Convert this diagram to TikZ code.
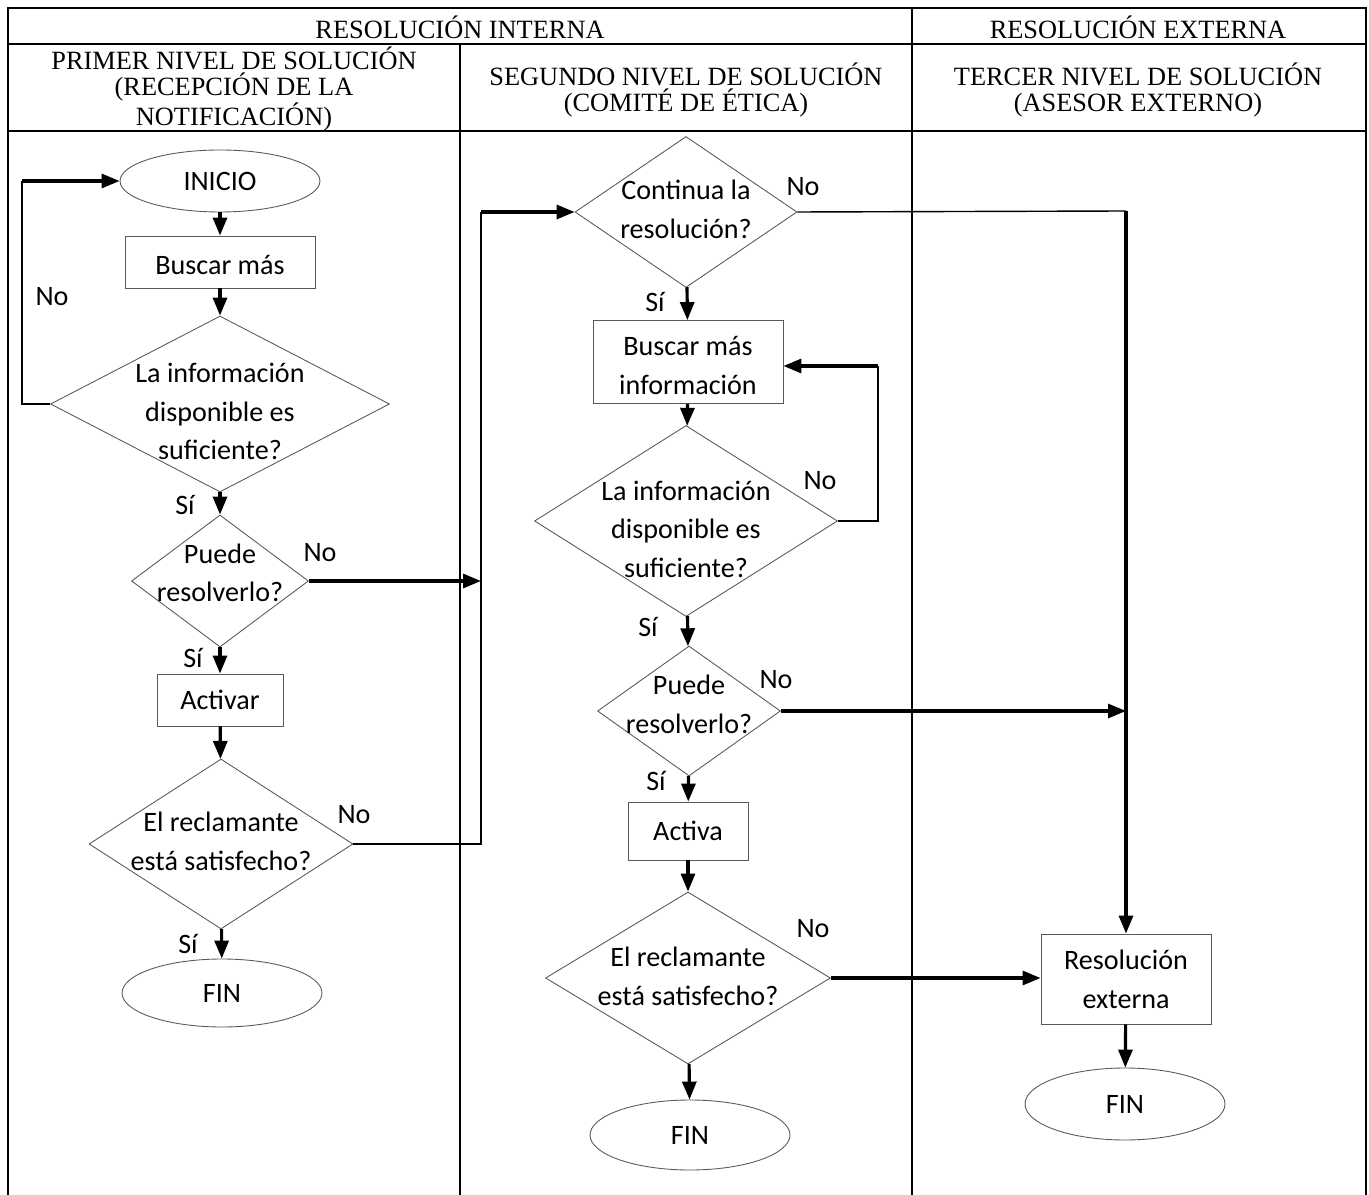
\documentclass[tikz,border=0pt]{standalone}
\usepackage{fontspec}
\setmainfont{Liberation Serif}
\newfontfamily\flowfont{Carlito}
\usetikzlibrary{shapes.geometric,arrows.meta}
% text of a shape, kept out of the shape size
\newcommand{\dtxt}[2][-4pt]{\makebox[0pt]{\smash{\raisebox{#1}{\begin{tabular}{@{}c@{}}#2\end{tabular}}}}}

\begin{document}
\begin{tikzpicture}[x=0.02cm,y=-0.02cm,
  grid/.style={line width=0.8pt},
  head/.style={font=\fontsize{15}{14.6}\selectfont,align=center,inner sep=0pt},
  flow/.style={font=\flowfont\fontsize{16}{22}\selectfont},
  shp/.style={flow,draw=black!65,line width=0.5pt,inner sep=0pt},
  box/.style={shp,rectangle,align=center},
  term/.style={shp,ellipse,minimum width=4cm},
  dia/.style={shp,diamond},
  arr/.style={line width=1.8pt,-{Triangle[length=0.36cm,width=0.28cm]}},
  link/.style={line width=0.8pt},
  lbl/.style={flow,inner sep=0pt}]
\useasboundingbox (0,0) rectangle (1369,1195);

% table
\draw[grid] (8,1195) -- (8,8) -- (1366,8) -- (1366,1195);
\draw[grid] (8,44) -- (1366,44);
\draw[grid] (8,131) -- (1366,131);
\draw[grid] (460,44) -- (460,1195);
\draw[grid] (912,8) -- (912,1195);
\node[head] (hInt) at (460,27) {RESOLUCIÓN INTERNA};
\node[head] (hExt) at (1138,27) {RESOLUCIÓN EXTERNA};
\node[head] (hOne) at (234,89) {PRIMER NIVEL DE SOLUCIÓN\\(RECEPCIÓN DE LA\\NOTIFICACIÓN)};
\node[head] (hTwo) at (686,90) {SEGUNDO NIVEL DE SOLUCIÓN\\(COMITÉ DE ÉTICA)};
\node[head] (hThree) at (1138,90) {TERCER NIVEL DE SOLUCIÓN\\(ASESOR EXTERNO)};

% first level
\node[term,minimum height=1.24cm] (inicio) at (220,181) {INICIO};
\node[box,minimum width=3.8cm,minimum height=1.04cm] (buscarA) at (220,262) {\dtxt[-7pt]{Buscar más}};
\node[dia,minimum width=6.78cm,minimum height=3.52cm] (infoA) at (220,404) {\dtxt[-9.7pt]{La información\\disponible es\\suficiente?}};
\node[dia,minimum width=3.54cm,minimum height=2.64cm] (puedeA) at (220,581) {\dtxt[-0.7pt]{Puede\\resolverlo?}};
\node[box,minimum width=2.52cm,minimum height=1.04cm] (activar) at (220,700) {Activar};
\node[dia,minimum width=5.28cm,minimum height=3.4cm] (reclA) at (221,844) {\dtxt{El reclamante\\está satisfecho?}};
\node[term,minimum height=1.36cm] (finA) at (222,993) {FIN};

% second level
\node[dia,minimum width=4.44cm,minimum height=3.02cm] (contB) at (686,212) {\dtxt{Continua la\\resolución?}};
\node[box,minimum width=3.8cm,minimum height=1.66cm] (buscarB) at (688,362) {\dtxt[-7.5pt]{Buscar más\\información}};
\node[dia,minimum width=6.06cm,minimum height=3.82cm] (infoB) at (686,521) {\dtxt[-10pt]{La información\\disponible es\\suficiente?}};
\node[dia,minimum width=3.66cm,minimum height=2.6cm] (puedeB) at (689,711) {\dtxt[-1.8pt]{Puede\\resolverlo?}};
\node[box,minimum width=2.4cm,minimum height=1.16cm] (activa) at (688,831) {Activa};
\node[dia,minimum width=5.7cm,minimum height=3.44cm] (reclB) at (688,978) {\dtxt[-4.5pt]{El reclamante\\está satisfecho?}};
\node[term,minimum height=1.4cm] (finB) at (690,1135) {FIN};

% third level
\node[box,minimum width=3.4cm,minimum height=1.8cm] (extRes) at (1126,979) {\dtxt[-5.5pt]{Resolución\\externa}};
\node[term,minimum height=1.44cm] (finC) at (1125,1104) {FIN};

\coordinate (loopA) at (22,181);
\coordinate (joinA) at (481,581);
\coordinate (joinB) at (481,212);
\coordinate (joinC) at (1126,211);
\coordinate (loopB) at (878,366);

% connectors, first level
\draw[arr] (inicio) -- (buscarA);
\draw[arr] (buscarA) -- (infoA);
\draw[link] (infoA.west) -| (loopA);
\draw[arr] (loopA) -- (inicio.west);
\draw[arr] (infoA) -- (puedeA);
\draw[arr] (puedeA.east) -- (joinA);
\draw[arr] (puedeA) -- (activar);
\draw[arr] (activar) -- (reclA);
\draw[link] (reclA.east) -| (joinB);
\draw[arr] (joinB) -- (contB.west);
\draw[arr] (reclA) -- (finA);

% connectors, second level
\draw[link] (contB.east) -- (joinC);
\draw[arr] (joinC) -- (extRes.north);
\draw[arr] (contB) -- (buscarB);
\draw[arr] (buscarB) -- (infoB);
\draw[link] (infoB.east) -| (loopB);
\draw[arr] (loopB) -- (loopB -| buscarB.east);
\draw[arr] (infoB) -- (puedeB);
\draw[arr] (puedeB.east) -- (joinC |- puedeB.east);
\draw[arr] (puedeB) -- (activa);
\draw[arr] (activa) -- (reclB);
\draw[arr] (reclB.east) -- (reclB.east -| extRes.west);
\draw[arr] (reclB) -- (finB);
\draw[arr] (extRes) -- (finC);

% labels
\node[lbl] (nA1) at (52,297) {No};
\node[lbl] (sA1) at (185,505) {Sí};
\node[lbl] (nA2) at (320,553) {No};
\node[lbl] (sA2) at (193,658) {Sí};
\node[lbl] (nA3) at (354,815) {No};
\node[lbl] (sA3) at (188,944) {Sí};
\node[lbl] (nB1) at (803,187) {No};
\node[lbl] (sB1) at (655,302) {Sí};
\node[lbl] (nB2) at (820,481) {No};
\node[lbl] (sB2) at (648,627) {Sí};
\node[lbl] (nB3) at (776,680) {No};
\node[lbl] (sB3) at (656,781) {Sí};
\node[lbl] (nB4) at (813,929) {No};
\end{tikzpicture}
\end{document}
